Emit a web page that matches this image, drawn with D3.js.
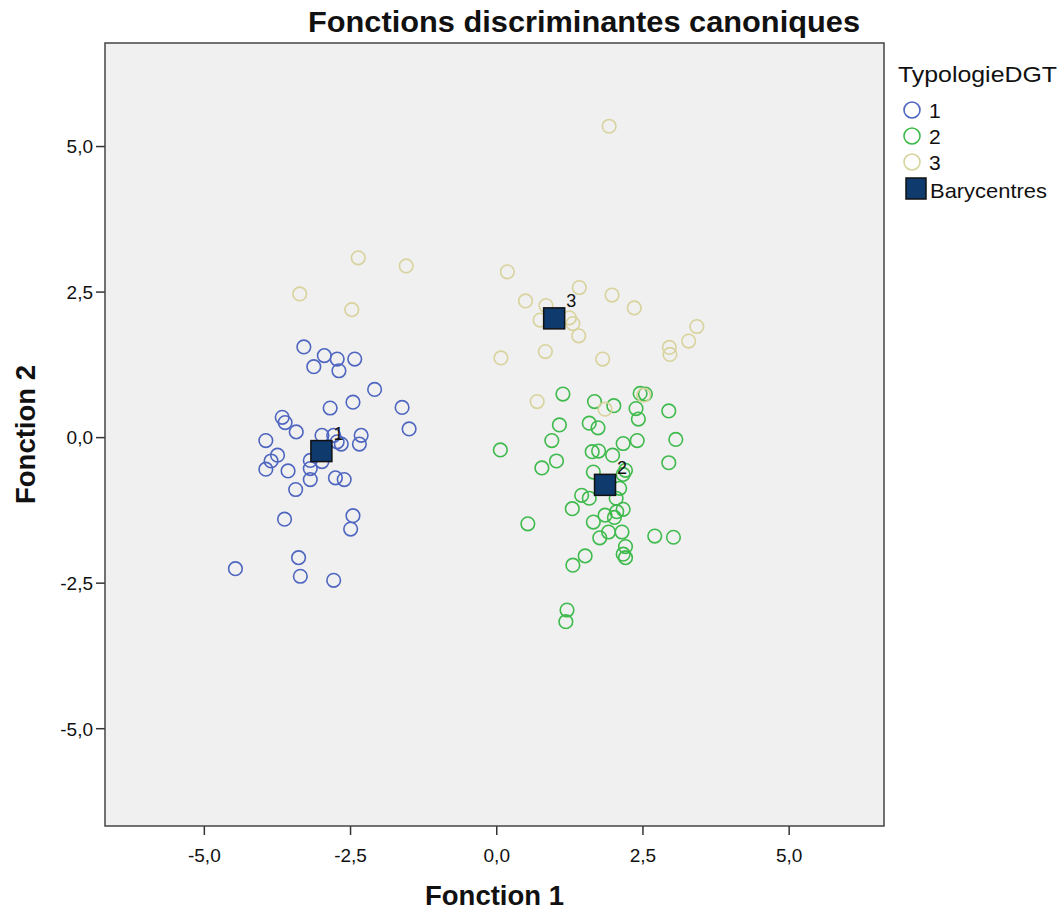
<!DOCTYPE html>
<html><head><meta charset="utf-8">
<script src="https://cdn.jsdelivr.net/npm/d3@7"></script>
<style>body{margin:0;background:#fff;} text{font-family:Arial,"Liberation Sans",sans-serif;}</style>
</head><body>
<svg id="chart" width="1063" height="916"></svg>
<script>
const group1 = [[-3.29,1.55],[-2.94,1.40],[-2.72,1.34],[-2.42,1.34],[-3.12,1.21],[-2.69,1.14],[-2.08,0.82],[-2.45,0.60],[-2.84,0.50],[-1.61,0.51],[-3.66,0.34],[-3.61,0.25],[-3.42,0.09],[-1.49,0.14],[-3.94,-0.06],[-2.98,0.03],[-2.78,0.03],[-2.31,0.03],[-2.34,-0.12],[-2.65,-0.12],[-2.72,-0.08],[-3.74,-0.31],[-3.85,-0.41],[-3.94,-0.55],[-3.56,-0.58],[-3.18,-0.40],[-3.18,-0.54],[-2.98,-0.42],[-2.75,-0.70],[-2.60,-0.73],[-3.18,-0.73],[-3.43,-0.90],[-3.62,-1.41],[-2.45,-1.35],[-2.49,-1.58],[-3.38,-2.07],[-4.46,-2.26],[-3.35,-2.39],[-2.78,-2.46]];
const group2 = [[1.14,0.74],[1.68,0.61],[2.01,0.54],[2.46,0.75],[2.55,0.74],[2.39,0.49],[2.43,0.31],[2.95,0.45],[1.08,0.21],[1.59,0.24],[1.74,0.16],[0.95,-0.06],[2.17,-0.11],[2.41,-0.06],[3.07,-0.04],[0.07,-0.22],[1.64,-0.25],[1.75,-0.24],[1.99,-0.31],[1.03,-0.41],[0.78,-0.53],[2.95,-0.44],[1.66,-0.60],[2.21,-0.57],[2.17,-0.64],[2.11,-0.88],[1.46,-1.00],[1.59,-1.05],[2.05,-1.05],[1.30,-1.23],[2.17,-1.24],[1.86,-1.34],[2.02,-1.38],[2.06,-1.28],[1.66,-1.46],[0.54,-1.49],[1.92,-1.63],[1.77,-1.73],[2.15,-1.63],[2.71,-1.70],[3.03,-1.72],[2.21,-1.88],[2.17,-2.01],[2.21,-2.07],[1.52,-2.04],[1.31,-2.20],[1.21,-2.97],[1.19,-3.17]];
const group3 = [[-2.36,3.08],[-1.54,2.94],[-3.36,2.46],[-2.47,2.19],[0.19,2.84],[1.42,2.57],[1.98,2.44],[0.50,2.34],[0.85,2.26],[2.36,2.22],[0.75,2.01],[1.25,2.05],[1.31,1.95],[1.41,1.74],[3.43,1.90],[3.29,1.65],[2.96,1.54],[2.97,1.42],[0.08,1.36],[0.84,1.47],[1.82,1.34],[1.93,5.34],[0.70,0.61],[1.86,0.48],[2.52,0.72]];
const centroidLabels = ["1","2","3"];
const centroids = [[-2.99,-0.24],[1.86,-0.82],[0.99,2.04]];
const groupNames = ["1","2","3"];
const groupColors = ["#4f66c0","#3fba4c","#d8d39c"];
const tickValues = [-5,-2.5,0,2.5,5];
const tickLabels = ["-5,0","-2,5","0,0","2,5","5,0"];

const svg = d3.select("#chart");
const L=105, R=884, T=43, B=826;
const x = d3.scaleLinear().domain([-6.69,6.63]).range([L,R]);
const y = d3.scaleLinear().domain([-6.68,6.77]).range([B,T]);

svg.append("rect").attr("x",L).attr("y",T).attr("width",R-L).attr("height",B-T)
  .attr("fill","#f0f0f0");

const fmt = d => tickLabels[tickValues.indexOf(d)];
const xa = svg.append("g").attr("transform",`translate(0,${B})`)
  .call(d3.axisBottom(x).tickValues(tickValues).tickFormat(fmt).tickSize(9).tickSizeOuter(0));
const ya = svg.append("g").attr("transform",`translate(${L},0)`)
  .call(d3.axisLeft(y).tickValues(tickValues).tickFormat(fmt).tickSize(9).tickSizeOuter(0));
[xa,ya].forEach(a=>{
  a.select(".domain").remove();
  a.selectAll("line").attr("stroke","#333").attr("stroke-width",1.5);
  a.selectAll("text").attr("font-size",19).attr("fill","#111").attr("font-family","Arial, 'Liberation Sans', sans-serif");
});
xa.selectAll("text").attr("y",0).attr("dy",0).attr("transform","translate(0,36)");
ya.selectAll("text").attr("x",-12).attr("dy","0.36em");

svg.append("rect").attr("x",L).attr("y",T).attr("width",R-L).attr("height",B-T)
  .attr("fill","none").attr("stroke","#444").attr("stroke-width",1.5);

const groups=[group1,group2,group3];
groups.forEach((g,i)=>{
  svg.append("g").selectAll("circle").data(g).join("circle")
    .attr("cx",d=>x(d[0])).attr("cy",d=>y(d[1])).attr("r",6.8)
    .attr("fill","none").attr("stroke",groupColors[i]).attr("stroke-width",1.6);
});

const cs=21;
svg.append("g").selectAll("rect").data(centroids).join("rect")
  .attr("x",d=>x(d[0])-cs/2).attr("y",d=>y(d[1])-cs/2).attr("width",cs).attr("height",cs)
  .attr("fill","#0e3a6e").attr("stroke","#111").attr("stroke-width",1.5);
svg.append("g").selectAll("text").data(centroids).join("text")
  .attr("x",d=>x(d[0])+12).attr("y",d=>y(d[1])-11)
  .attr("font-size",18).attr("fill","#111").text((d,i)=>centroidLabels[i]);

svg.append("text").attr("x",584).attr("y",32).attr("text-anchor","middle")
  .attr("font-size",29).attr("font-weight","bold").attr("fill","#111")
  .attr("textLength",552).attr("lengthAdjust","spacingAndGlyphs").text("Fonctions discriminantes canoniques");
svg.append("text").attr("x",(L+R)/2).attr("y",905).attr("text-anchor","middle")
  .attr("font-size",27).attr("font-weight","bold").attr("fill","#111")
  .attr("textLength",139).attr("lengthAdjust","spacingAndGlyphs").text("Fonction 1");
svg.append("text").attr("transform",`translate(35,${(T+B)/2}) rotate(-90)`).attr("text-anchor","middle")
  .attr("font-size",27).attr("font-weight","bold").attr("fill","#111")
  .attr("textLength",139).attr("lengthAdjust","spacingAndGlyphs").text("Fonction 2");

// legend
const lg = svg.append("g");
lg.append("text").attr("x",898).attr("y",82).attr("font-size",22).attr("fill","#111")
  .attr("textLength",159).attr("lengthAdjust","spacingAndGlyphs").text("TypologieDGT");
groupNames.forEach((n,i)=>{
  const cy=110+i*26;
  lg.append("circle").attr("cx",912).attr("cy",cy).attr("r",8).attr("fill","none")
    .attr("stroke",groupColors[i]).attr("stroke-width",1.6);
  lg.append("text").attr("x",929).attr("y",cy+8).attr("font-size",21).attr("fill","#111").text(n);
});
lg.append("rect").attr("x",906).attr("y",178).attr("width",20).attr("height",21)
  .attr("fill","#0e3a6e").attr("stroke","#111").attr("stroke-width",1.5);
lg.append("text").attr("x",930).attr("y",198).attr("font-size",21).attr("fill","#111")
  .attr("textLength",117).attr("lengthAdjust","spacingAndGlyphs").text("Barycentres");
</script>
</body></html>
